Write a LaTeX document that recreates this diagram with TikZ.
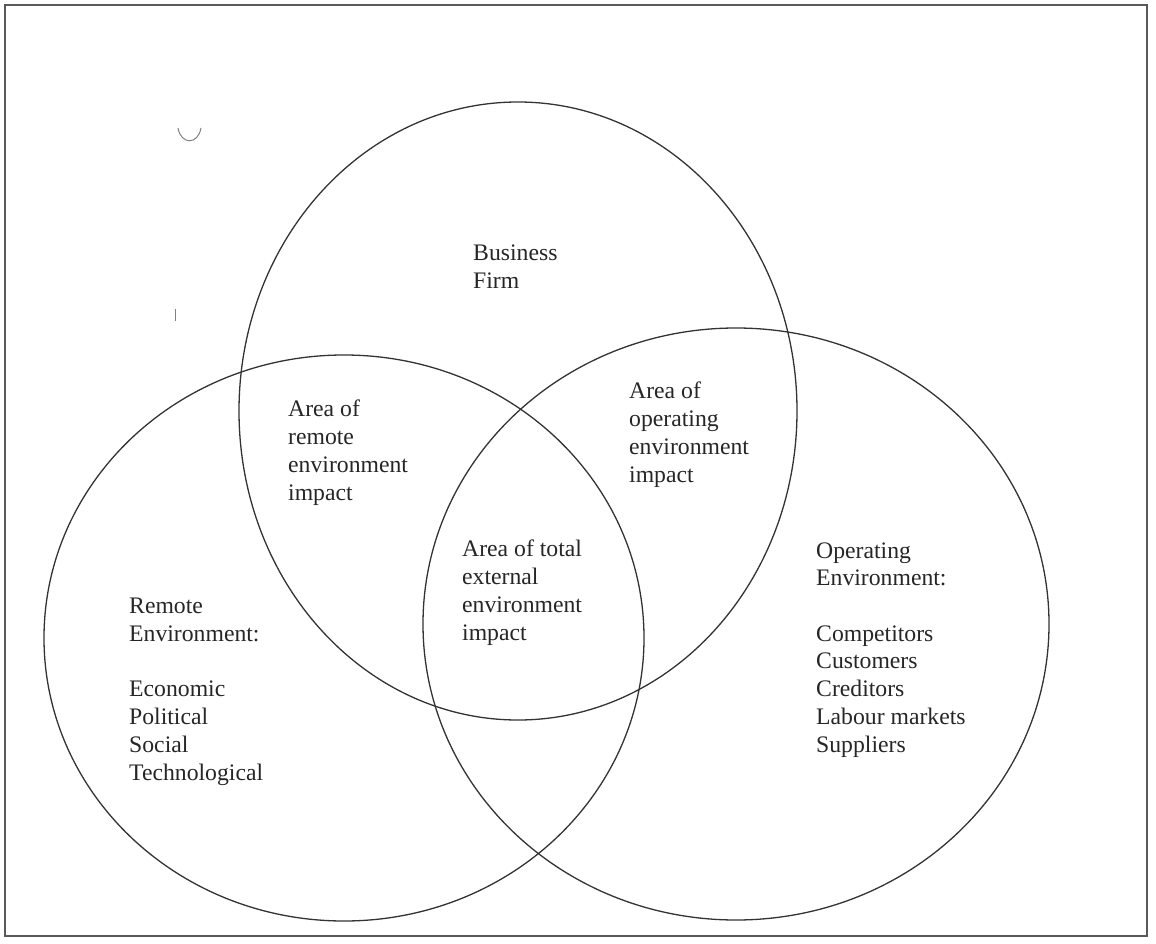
\documentclass[tikz,border=0pt]{standalone}
\usepackage{fontspec}
\setmainfont{Liberation Serif}
\begin{document}
\begin{tikzpicture}[x=1pt,y=-1pt,
  ring/.style={draw=black!80, line width=1.3pt},
  frame/.style={draw=black!65, line width=1.2pt},
  scanmark/.style={draw=black!50, line width=1pt},
  lbl/.style={anchor=base west, align=left, inner sep=0pt,
    font=\fontsize{23.7}{27.7}\selectfont, text=black!85}]
\useasboundingbox (0,0) rectangle (1156,944);
\draw[frame] (5,5) rectangle (1147,936);
% three ellipses
\draw[ring] (518,411) ellipse [x radius=279pt, y radius=309pt];
\draw[ring] (344,638) ellipse [x radius=300pt, y radius=283pt];
\draw[ring] (736,624) ellipse [x radius=313pt, y radius=296pt];
% scan marks
\draw[scanmark] (178,128) .. controls (181,145) and (198,145) .. (201,128);
\draw[scanmark] (175,309) -- (175,321);
% labels (anchor = baseline of last line)
\node[lbl] (firm) at (473,288) {Business\\Firm};
\node[lbl] (remarea) at (288,500) {Area of\\remote\\environment\\impact};
\node[lbl] (oparea) at (629,482) {Area of\\operating\\environment\\impact};
\node[lbl] (totarea) at (462,640) {Area of total\\external\\environment\\impact};
\node[lbl] (remote) at (129,780) {Remote\\Environment:\\[27.7pt]Economic\\Political\\Social\\Technological};
\node[lbl] (operating) at (816,752) {Operating\\Environment:\\[27.7pt]Competitors\\Customers\\Creditors\\Labour markets\\Suppliers};
\end{tikzpicture}
\end{document}
